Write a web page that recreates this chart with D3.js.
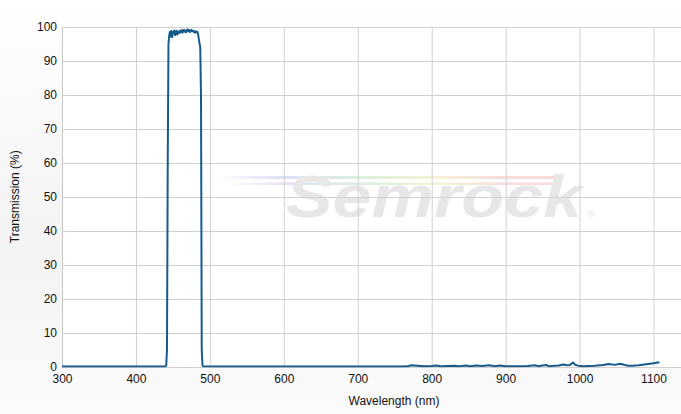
<!DOCTYPE html>
<html><head><meta charset="utf-8">
<script src="https://cdn.jsdelivr.net/npm/d3@7"></script>
<style>
html,body{margin:0;padding:0;background:#fff;}
svg{display:block;font-family:"Liberation Sans",Arial,sans-serif;}
</style></head>
<body>
<svg id="c" width="681" height="414"></svg>
<script>
// ---- data ----
const wavelengths = [300,440,441,442,443,444,445,446,447,448,449,450,451,452,453,454,455,456,457,458,459,460,461,462,463,464,465,466,467,468,469,470,471,472,473,474,475,476,477,478,479,480,481,482,483,484,485,486,487,488,489,490,491,
  760,768,772,790,800,806,812,830,838,846,852,860,868,878,885,892,900,915,930,940,944,950,955,958,962,972,978,983,987,991,994,998,1005,1020,1032,1039,1045,1050,1055,1060,1066,1072,1080,1090,1098,1104,1108];
const transmission = [0,0,0.3,5,60,95,97.5,98.6,97.2,98.8,97.0,98.6,98.1,99.0,97.6,98.4,98.9,97.8,98.5,98.2,98.9,98.4,98.7,99.1,98.3,98.9,99.2,98.6,98.9,98.4,99.1,99.3,98.8,99.1,98.5,98.9,99.2,98.7,98.9,98.6,98.8,98.3,98.7,98.5,98.6,97.9,96.5,95.2,94,80,5,0.3,0,
  0,0.05,0.35,0.05,0.15,0.3,0.1,0.25,0.1,0.3,0.1,0.3,0.15,0.35,0.1,0.3,0.1,0.05,0.15,0.35,0.1,0.3,0.45,0.1,0.15,0.3,0.6,0.35,0.45,1.2,0.5,0.25,0.1,0.2,0.45,0.75,0.55,0.6,0.8,0.5,0.25,0.2,0.35,0.65,0.9,1.1,1.25];
const xTicks = [300,400,500,600,700,800,900,1000,1100];
const yTicks = [0,10,20,30,40,50,60,70,80,90,100];
const xTitle = "Wavelength (nm)";
const yTitle = "Transmission (%)";

// ---- layout ----
const W = 681, H = 414;
const L = 62, R = 681, T = 27, B = 366.5;
const svg = d3.select("#c");
const defs = svg.append("defs");
const bg = defs.append("linearGradient").attr("id","bg").attr("x1",0).attr("y1",0).attr("x2",0).attr("y2",1);
bg.append("stop").attr("offset","0%").attr("stop-color","#ffffff");
bg.append("stop").attr("offset","60%").attr("stop-color","#f3f3f3");
bg.append("stop").attr("offset","100%").attr("stop-color","#fbfbfb");
const rb = defs.append("linearGradient").attr("id","rb").attr("x1",0).attr("y1",0).attr("x2",1).attr("y2",0);
[["0%","#ffffff"],["20%","#dde0f6"],["45%","#dcf0de"],["65%","#f6f3d4"],["85%","#f8dcdc"],["100%","#f8dcdc"]].forEach(s=>rb.append("stop").attr("offset",s[0]).attr("stop-color",s[1]));
defs.append("clipPath").attr("id","clip").append("rect").attr("x",L).attr("y",T-3).attr("width",R-L).attr("height",B-T+4);

svg.append("rect").attr("width",W).attr("height",H).attr("fill","url(#bg)");
svg.append("rect").attr("x",L).attr("y",T).attr("width",R-L).attr("height",B-T).attr("fill","#ffffff");

const x = d3.scaleLinear().domain([300,1100]).range([L,653.5]);
const y = d3.scaleLinear().domain([0,100]).range([B,T]);

// watermark (decorative logo)
const wm = svg.append("g");
wm.append("rect").attr("x",215).attr("y",176).attr("width",340).attr("height",3).attr("fill","url(#rb)");
wm.append("rect").attr("x",225).attr("y",182.5).attr("width",330).attr("height",2.5).attr("fill","url(#rb)");
wm.append("text").attr("transform","translate(434,217) scale(1.17,1)").attr("text-anchor","middle")
  .attr("font-size",60).attr("font-weight","bold").attr("font-style","italic")
  .attr("fill","#e7e7e7").text("Semrock");
wm.append("text").attr("x",588).attr("y",217).attr("font-size",9).attr("fill","#e3e3e3").text("®");

// grid
const grid = svg.append("g");
grid.selectAll("line.v").data(xTicks).join("line").attr("class","v")
  .attr("x1",d=>x(d)+0.5).attr("x2",d=>x(d)+0.5).attr("y1",T).attr("y2",B).attr("stroke","#d0d0d0").attr("stroke-width",1);
grid.selectAll("line.h").data(yTicks).join("line").attr("class","h")
  .attr("x1",L).attr("x2",R).attr("y1",d=>Math.round(y(d))+0.5).attr("y2",d=>Math.round(y(d))+0.5).attr("stroke","#d0d0d0").attr("stroke-width",1);

// axes labels via d3 axis
const xAxis = svg.append("g").attr("transform",`translate(0,${B})`)
  .call(d3.axisBottom(x).tickValues(xTicks).tickFormat(d3.format("d")).tickSize(0).tickPadding(8));
const yAxis = svg.append("g").attr("transform",`translate(${L},0)`)
  .call(d3.axisLeft(y).tickValues(yTicks).tickFormat(d3.format("d")).tickSize(0).tickPadding(5));
[xAxis,yAxis].forEach(a=>{
  a.select(".domain").remove();
  a.selectAll("text").attr("font-size",12).attr("fill","#111").attr("font-family","Liberation Sans, Arial, sans-serif");
});
yAxis.selectAll("text").attr("dy","0.3em");

svg.append("line").attr("x1",L+0.5).attr("x2",L+0.5).attr("y1",T).attr("y2",B).attr("stroke","#c8c8c8");

// line
const pts = wavelengths.map((w,i)=>[w,transmission[i]]);
svg.append("path").datum(pts).attr("clip-path","url(#clip)")
  .attr("d",d3.line().x(d=>x(d[0])).y(d=>y(d[1])))
  .attr("fill","none").attr("stroke","#175a8c").attr("stroke-width",2).attr("stroke-linejoin","round");

// titles
svg.append("text").attr("x",394).attr("y",405).attr("text-anchor","middle")
  .attr("font-size",12).attr("fill","#111").text(xTitle);
svg.append("text").attr("transform",`translate(19,${(T+B)/2}) rotate(-90)`).attr("text-anchor","middle")
  .attr("font-size",12).attr("fill","#111").text(yTitle);
</script>
</body></html>
